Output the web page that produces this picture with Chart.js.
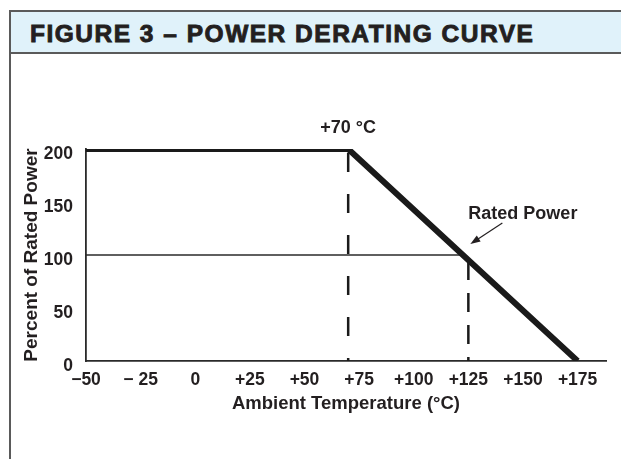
<!DOCTYPE html>
<html>
<head>
<meta charset="utf-8">
<script src="https://cdn.jsdelivr.net/npm/chart.js@4/dist/chart.umd.min.js"></script>
<style>
    body { margin: 0; width: 621px; height: 459px; background: #ffffff; overflow: hidden; position: relative; font-family: "Liberation Sans", Arial, sans-serif; }
    .frame { position: absolute; left: 9px; top: 10px; width: 620px; height: 460px; border-left: 2px solid #5a5a5a; border-top: 2px solid #5a5a5a; }
    .header { position: absolute; left: 11px; top: 12px; width: 610px; height: 40px; background: #e0f2fa; border-bottom: 2px solid #5a5a5a; }
    .title { position: absolute; left: 30px; top: 22px; font-size: 24.5px; line-height: 24px; font-weight: bold; letter-spacing: 1.5px; color: #231f20; -webkit-text-stroke: 0.9px #231f20; white-space: nowrap; }
    #LineChart_derating { position: absolute; left: 0; top: 0; }
</style>
</head>
<body>
<div class="frame"></div>
<div class="header"></div>
<div class="title">FIGURE 3 – POWER DERATING CURVE</div>
<canvas id="LineChart_derating" width="621" height="459"></canvas>
<script>
// данные кривой
const temps = [-50, 70, 175];
const powerPct = [200, 200, 0];

const ratedTemps = [-50, 122.5];
const ratedPct = [100, 100];

const knee70Temps = [70, 70];
const knee70Pct = [200, 0];

const mark125Temps = [125, 125];
const mark125Pct = [100, 0];

const xTickValues = [-50, -25, 0, 25, 50, 75, 100, 125, 150, 175];
const xTickLabels = ['−50', '− 25', '0', '+25', '+50', '+75', '+100', '+125', '+150', '+175'];
const yTickValues = [0, 50, 100, 150, 200];
const yTickLabels = ['0', '50', '100', '150', '200'];

const kneeLabel = '+70 °C';
const ratedLabel = 'Rated Power';

const inkColor = '#231f20';
const fontFamily = '"Liberation Sans", Arial, sans-serif';

function toPoints(xs, ys) {
    let pts = [];
    for (let i = 0; i < xs.length; i++) {
        pts.push({x: xs[i], y: ys[i]});
    }
    return pts;
}

// подписи и стрелка
const annotationsPlugin = {
    id: 'annotations',
    afterDatasetsDraw(chart) {
        const ctx = chart.ctx;
        const xs = chart.scales.x;
        const ys = chart.scales.y;
        ctx.save();
        ctx.fillStyle = inkColor;
        ctx.font = 'bold 18px ' + fontFamily;
        ctx.textBaseline = 'middle';

        ctx.textAlign = 'center';
        ctx.fillText(kneeLabel, xs.getPixelForValue(knee70Temps[0]), ys.getPixelForValue(knee70Pct[0]) - 21);

        const px = xs.getPixelForValue(mark125Temps[0]);
        const py = ys.getPixelForValue(ratedPct[0]);
        ctx.textAlign = 'left';
        ctx.fillText(ratedLabel, px, py - 41);

        // стрелка к точке номинальной мощности
        const x1 = px + 34, y1 = py - 32;
        const x2 = px + 2, y2 = py - 11;
        const ang = Math.atan2(y2 - y1, x2 - x1);
        ctx.strokeStyle = inkColor;
        ctx.lineWidth = 1.2;
        ctx.beginPath();
        ctx.moveTo(x1, y1);
        ctx.lineTo(x2 - 6 * Math.cos(ang), y2 - 6 * Math.sin(ang));
        ctx.stroke();
        ctx.beginPath();
        ctx.moveTo(x2, y2);
        ctx.lineTo(x2 - 10 * Math.cos(ang) + 3.5 * Math.sin(ang), y2 - 10 * Math.sin(ang) - 3.5 * Math.cos(ang));
        ctx.lineTo(x2 - 10 * Math.cos(ang) - 3.5 * Math.sin(ang), y2 - 10 * Math.sin(ang) + 3.5 * Math.cos(ang));
        ctx.closePath();
        ctx.fill();
        ctx.restore();
    }
};

function LineChart_derating(id_LineChart) {
    const ctx = document.getElementById(id_LineChart).getContext('2d');
    const myChart = new Chart(ctx, {
        type: 'line',
        data: {
            datasets: [{
                label: 'Power',
                data: toPoints(temps, powerPct),
                borderColor: '#1a1a1a',
                borderWidth: 6,
                borderCapStyle: 'butt',
                borderJoinStyle: 'miter',
                pointRadius: 0,
                fill: false,
                tension: 0
            }, {
                label: 'Rated',
                data: toPoints(ratedTemps, ratedPct),
                borderColor: '#2a2a2a',
                borderWidth: 1.5,
                pointRadius: 0,
                fill: false
            }, {
                label: '70',
                data: toPoints(knee70Temps, knee70Pct),
                borderColor: '#1a1a1a',
                borderWidth: 2.5,
                borderDash: [19, 22],
                borderDashOffset: -4,
                borderCapStyle: 'butt',
                pointRadius: 0,
                fill: false
            }, {
                label: '125',
                data: toPoints(mark125Temps, mark125Pct),
                borderColor: '#1a1a1a',
                borderWidth: 2.5,
                borderDash: [19, 13],
                borderDashOffset: -6,
                borderCapStyle: 'butt',
                pointRadius: 0,
                fill: false
            }]
        },
        options: {
            responsive: false,
            animation: false,
            devicePixelRatio: 1,
            layout: {
                padding: {left: 0, top: 149, right: 15, bottom: 0}
            },
            plugins: {
                legend: {display: false},
                tooltip: {enabled: false}
            },
            scales: {
                x: {
                    type: 'linear',
                    min: -50,
                    max: 188,
                    grid: {display: false},
                    border: {display: true, color: '#2a2a2a', width: 1.8},
                    afterFit: function(scale) { scale.height = 98; },
                    afterBuildTicks: function(scale) {
                        scale.ticks = xTickValues.map(v => ({value: v}));
                    },
                    ticks: {
                        padding: 1,
                        maxRotation: 0,
                        autoSkip: false,
                        color: inkColor,
                        font: {family: fontFamily, size: 17.5, weight: 'bold'},
                        callback: function(value) {
                            const i = xTickValues.indexOf(value);
                            return i >= 0 ? xTickLabels[i] : '';
                        }
                    },
                    title: {
                        display: true,
                        text: 'Ambient Temperature (°C)',
                        color: inkColor,
                        font: {family: fontFamily, size: 18.5, weight: 'bold'},
                        padding: {top: 0, bottom: 44}
                    }
                },
                y: {
                    type: 'linear',
                    min: 0,
                    max: 200,
                    grid: {display: false},
                    border: {display: true, color: '#2a2a2a', width: 1.8},
                    afterFit: function(scale) { scale.width = 86; },
                    afterBuildTicks: function(scale) {
                        scale.ticks = yTickValues.map(v => ({value: v}));
                    },
                    ticks: {
                        padding: 5,
                        labelOffset: 5,
                        color: inkColor,
                        font: {family: fontFamily, size: 17.5, weight: 'bold'},
                        callback: function(value) {
                            const i = yTickValues.indexOf(value);
                            return i >= 0 ? yTickLabels[i] : '';
                        }
                    },
                    title: {
                        display: true,
                        text: 'Percent of Rated Power',
                        color: inkColor,
                        font: {family: fontFamily, size: 19, weight: 'bold'},
                        padding: {top: 20, bottom: 0}
                    }
                }
            }
        },
        plugins: [annotationsPlugin]
    });
}

LineChart_derating('LineChart_derating');
</script>
</body>
</html>
